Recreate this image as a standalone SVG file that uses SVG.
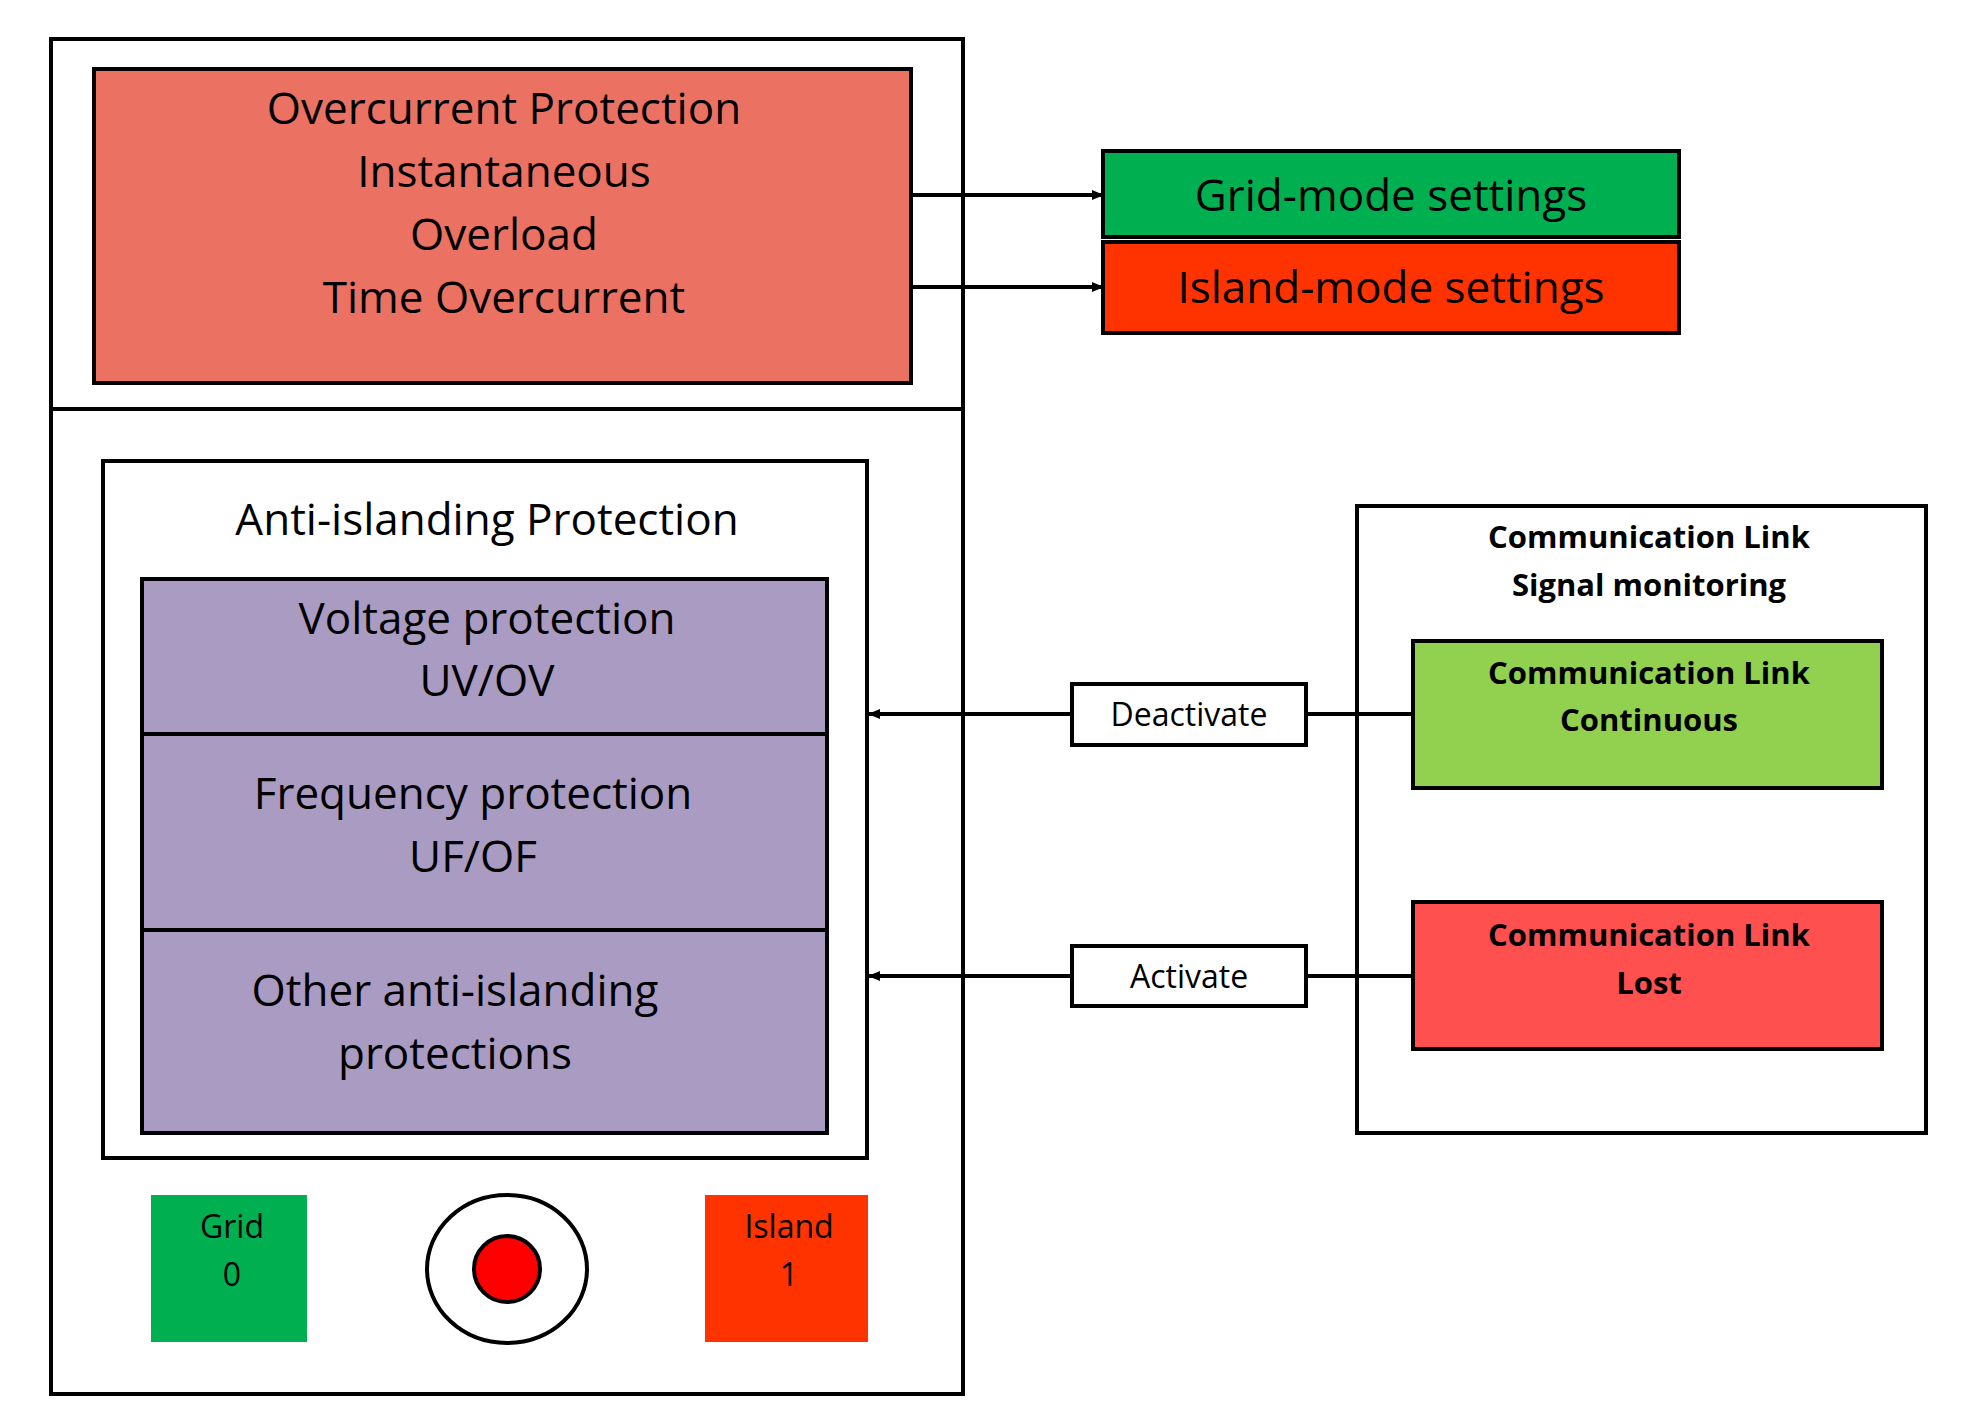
<svg xmlns="http://www.w3.org/2000/svg" width="1968" height="1427" viewBox="0 0 1968 1427">
<defs>
<style>
.b{stroke:#000;stroke-width:4}
.t{font-family:"Open Sans","Liberation Sans",sans-serif;fill:#000;text-anchor:middle}
.L{font-size:44px}
.S{font-size:31px;font-weight:bold}
.M{font-size:32px}
</style>
<marker id="ah" markerWidth="12" markerHeight="10" refX="11" refY="5" orient="auto" markerUnits="userSpaceOnUse" viewBox="0 0 12 10"><path d="M0,0 L12,5 L0,10 Z" fill="#000"/></marker>
</defs>
<rect width="1968" height="1427" fill="#fff"/>
<g id="outer"><rect x="51" y="39" width="912" height="1355" fill="#fff" class="b"/><line x1="51" y1="409" x2="963" y2="409" class="b"/></g>
<g id="overcurrent"><rect x="94" y="69" width="817" height="314" fill="#EB7263" class="b"/>
<text class="t L" x="504" y="124">Overcurrent Protection</text>
<text class="t L" x="504" y="187">Instantaneous</text>
<text class="t L" x="504" y="250">Overload</text>
<text class="t L" x="504" y="313">Time Overcurrent</text></g>
<g id="gridmode"><rect x="1103" y="151" width="576" height="86" fill="#00B050" class="b"/><text class="t L" x="1391" y="211">Grid-mode settings</text></g>
<g id="islandmode"><rect x="1103" y="242" width="576" height="91" fill="#FF3300" class="b"/><text class="t L" x="1391" y="303">Island-mode settings</text></g>
<g id="anti"><rect x="103" y="461" width="764" height="697" fill="#fff" class="b"/><text class="t L" x="487" y="535">Anti-islanding Protection</text></g>
<g id="voltage"><rect x="142" y="579" width="685" height="155" fill="#A99BC1" class="b"/><text class="t L" x="487" y="634">Voltage protection</text><text class="t L" x="487" y="696">UV/OV</text></g>
<g id="frequency"><rect x="142" y="734" width="685" height="196" fill="#A99BC1" class="b"/><text class="t L" x="473" y="809">Frequency protection</text><text class="t L" x="473" y="872">UF/OF</text></g>
<g id="other"><rect x="142" y="930" width="685" height="203" fill="#A99BC1" class="b"/><text class="t L" x="455" y="1006">Other anti-islanding</text><text class="t L" x="455" y="1069">protections</text></g>
<g id="grid"><rect x="151" y="1195" width="156" height="147" fill="#00B050"/><text class="t M" x="232" y="1238">Grid</text><text class="t M" x="232" y="1286">0</text></g>
<g id="island"><rect x="705" y="1195" width="163" height="147" fill="#FF3300"/><text class="t M" x="789" y="1238">Island</text><text class="t M" x="789" y="1286">1</text></g>
<g id="switch"><ellipse cx="507" cy="1269" rx="80" ry="74" fill="#fff" class="b"/><circle cx="507" cy="1269" r="33" fill="#FF0000" class="b"/></g>
<g id="comm"><rect x="1357" y="506" width="569" height="627" fill="#fff" class="b"/><text class="t S" x="1649" y="548">Communication Link</text><text class="t S" x="1649" y="596">Signal monitoring</text></g>
<g id="continuous"><rect x="1413" y="641" width="469" height="147" fill="#92D050" class="b"/><text class="t S" x="1649" y="684">Communication Link</text><text class="t S" x="1649" y="731">Continuous</text></g>
<g id="lost"><rect x="1413" y="902" width="469" height="147" fill="#FF5050" class="b"/><text class="t S" x="1649" y="946">Communication Link</text><text class="t S" x="1649" y="994">Lost</text></g>
<g id="connectors" fill="none">
<line x1="911" y1="195" x2="1103" y2="195" class="b" marker-end="url(#ah)"/>
<line x1="911" y1="287" x2="1103" y2="287" class="b" marker-end="url(#ah)"/>
<line x1="1413" y1="714" x2="1306" y2="714" class="b"/>
<line x1="1072" y1="714" x2="869" y2="714" class="b" marker-end="url(#ah)"/>
<line x1="1413" y1="976" x2="1306" y2="976" class="b"/>
<line x1="1072" y1="976" x2="869" y2="976" class="b" marker-end="url(#ah)"/>
</g>
<g id="deactivate"><rect x="1072" y="684" width="234" height="61" fill="#fff" class="b"/><text class="t M" x="1189" y="726">Deactivate</text></g>
<g id="activate"><rect x="1072" y="946" width="234" height="60" fill="#fff" class="b"/><text class="t M" x="1189" y="988">Activate</text></g>
</svg>
